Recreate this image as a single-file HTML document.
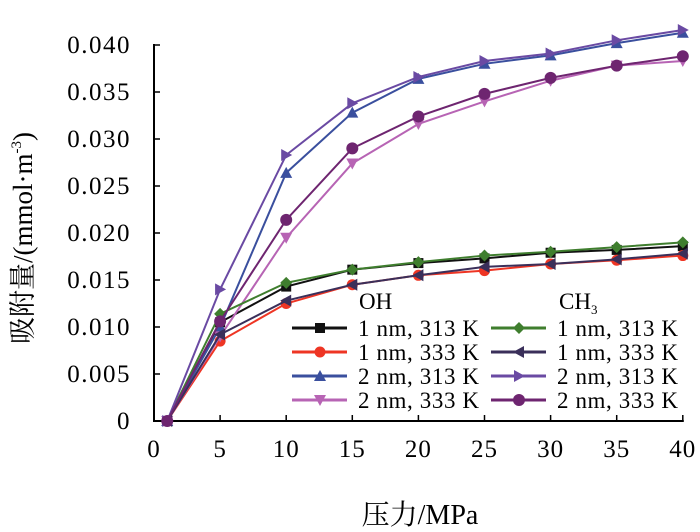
<!DOCTYPE html>
<html><head><meta charset="utf-8"><style>
html,body{margin:0;padding:0;background:#fff;}
svg{display:block;font-family:"Liberation Serif","Noto Serif CJK SC",serif;}
</style></head><body>
<svg id="chart" width="700" height="532">
<g id="axes"></g>
<g id="series"></g>
<g id="legend"></g>
<text x="420" y="524" font-size="28" text-anchor="middle">压力/MPa</text>
<text transform="translate(32,238) rotate(-90)" font-size="27" text-anchor="middle">吸附量/(mmol·m<tspan font-size="15" dy="-11">-3</tspan><tspan dy="11">)</tspan></text>
</svg>
<script>
const pressures=[1,5,10,15,20,25,30,35,40];
const oh1nm313=[0,0.0105,0.0143,0.0161,0.0168,0.0173,0.0179,0.0182,0.0186];
const oh1nm333=[0,0.0085,0.0125,0.0145,0.0155,0.0160,0.0167,0.0171,0.0176];
const oh2nm313=[0,0.0100,0.0264,0.0328,0.0364,0.0380,0.0389,0.0402,0.0413];
const oh2nm333=[0,0.0090,0.0195,0.0274,0.0316,0.0340,0.0362,0.0378,0.0383];
const ch1nm313=[0,0.0114,0.0147,0.0161,0.0169,0.0176,0.0180,0.0185,0.0190];
const ch1nm333=[0,0.0092,0.0128,0.0145,0.0155,0.0164,0.0167,0.0172,0.0178];
const ch2nm313=[0,0.0140,0.0283,0.0338,0.0366,0.0383,0.0391,0.0405,0.0416];
const ch2nm333=[0,0.0106,0.0214,0.0290,0.0324,0.0348,0.0365,0.0378,0.0388];
const xTicks=[0,5,10,15,20,25,30,35,40];
const yTicks=[0,0.005,0.010,0.015,0.020,0.025,0.030,0.035,0.040];
const yTickLabels=["0","0.005","0.010","0.015","0.020","0.025","0.030","0.035","0.040"];

const NS="http://www.w3.org/2000/svg";
const X0=154,XS=13.22,Y0=421,YS=376/0.04;
const sx=v=>X0+v*XS, sy=v=>Y0-v*YS;
function mk(tag,attrs,parent){const e=document.createElementNS(NS,tag);for(const k in attrs)e.setAttribute(k,attrs[k]);parent.appendChild(e);return e;}
const axes=document.getElementById('axes');
let a=mk('line',{x1:X0,y1:sy(0.04)-1,x2:X0,y2:Y0+1,stroke:'#000','stroke-width':2},axes);


a=mk('line',{x1:X0-1,y1:Y0,x2:sx(40)+1,y2:Y0,stroke:'#000','stroke-width':2},axes);


yTicks.forEach((v,i)=>{
  const t=mk('line',{x1:X0,y1:sy(v),x2:X0+6,y2:sy(v),stroke:'#000','stroke-width':1.5},axes);
  
  
  const l=mk('text',{x:131,y:sy(v)+8,'font-size':25,'letter-spacing':1.5,'text-anchor':'end'},axes);
  l.textContent=yTickLabels[i];
  
  
});
xTicks.forEach(v=>{
  const t=mk('line',{x1:sx(v),y1:Y0,x2:sx(v),y2:Y0-6,stroke:'#000','stroke-width':1.5},axes);
  
  
  const l=mk('text',{x:sx(v),y:Y0+36,'font-size':25,'letter-spacing':1,'text-anchor':'middle'},axes);
  l.textContent=String(v);
  
  
});
function marker(type,x,y,color,g){
  const r=6;let p;
  if(type==='square')p=mk('rect',{x:x-5,y:y-5,width:10,height:10,fill:color},g);
  else if(type==='circle')p=mk('circle',{cx:x,cy:y,r:5.5,fill:color},g);
  else if(type==='up')p=mk('polygon',{points:`${x},${y-r} ${x-r},${y+5} ${x+r},${y+5}`,fill:color},g);
  else if(type==='down')p=mk('polygon',{points:`${x},${y+r} ${x-r},${y-5} ${x+r},${y-5}`,fill:color},g);
  else if(type==='diamond')p=mk('polygon',{points:`${x},${y-r} ${x+r},${y} ${x},${y+r} ${x-r},${y}`,fill:color},g);
  else if(type==='left')p=mk('polygon',{points:`${x-r},${y} ${x+5},${y-r} ${x+5},${y+r}`,fill:color},g);
  else if(type==='right')p=mk('polygon',{points:`${x+r},${y} ${x-5},${y-r} ${x-5},${y+r}`,fill:color},g);
  else p=mk('circle',{cx:x,cy:y,r:6,fill:color},g);
  
  
}
const seriesDefs=[
 {d:oh1nm313,c:'#111111',m:'square',n:'oh-1nm-313k',label:'1 nm, 313 K',col:0,row:0},
 {d:oh1nm333,c:'#ee3524',m:'circle',n:'oh-1nm-333k',label:'1 nm, 333 K',col:0,row:1},
 {d:oh2nm313,c:'#3a4f9e',m:'up',n:'oh-2nm-313k',label:'2 nm, 313 K',col:0,row:2},
 {d:oh2nm333,c:'#b764b4',m:'down',n:'oh-2nm-333k',label:'2 nm, 333 K',col:0,row:3},
 {d:ch1nm313,c:'#3f7e2e',m:'diamond',n:'ch3-1nm-313k',label:'1 nm, 313 K',col:1,row:0},
 {d:ch1nm333,c:'#3a2f5a',m:'left',n:'ch3-1nm-333k',label:'1 nm, 333 K',col:1,row:1},
 {d:ch2nm313,c:'#6a4aa3',m:'right',n:'ch3-2nm-313k',label:'2 nm, 313 K',col:1,row:2},
 {d:ch2nm333,c:'#6e2570',m:'hex',n:'ch3-2nm-333k',label:'2 nm, 333 K',col:1,row:3},
];
const sg=document.getElementById('series');
seriesDefs.forEach(s=>{
  const g=mk('g',{},sg);
  
  
  const pts=s.d.map((v,i)=>sx(pressures[i])+','+sy(v)).join(' ');
  const pl=mk('polyline',{points:pts,fill:'none',stroke:s.c,'stroke-width':2},g);
  
  
  s.d.forEach((v,i)=>marker(s.m,sx(pressures[i]),sy(v),s.c,g));
});
const lg=document.getElementById('legend');
const h1=mk('text',{x:359,y:309,'font-size':23},lg);h1.textContent='OH';


const h2=mk('text',{x:559,y:309,'font-size':23},lg);h2.innerHTML='CH<tspan font-size="13" dy="5">3</tspan>';


seriesDefs.forEach(s=>{
  const lx=s.col?491:292, y=328+s.row*24;
  const g=mk('g',{},lg);
  
  
  mk('line',{x1:lx,y1:y,x2:lx+55,y2:y,stroke:s.c,'stroke-width':3},g);
  marker(s.m,lx+28,y,s.c,g);
  const t=mk('text',{x:lx+66,y:y+8,'font-size':23,'letter-spacing':0.6},g);t.textContent=s.label;
});
</script>
</body></html>
